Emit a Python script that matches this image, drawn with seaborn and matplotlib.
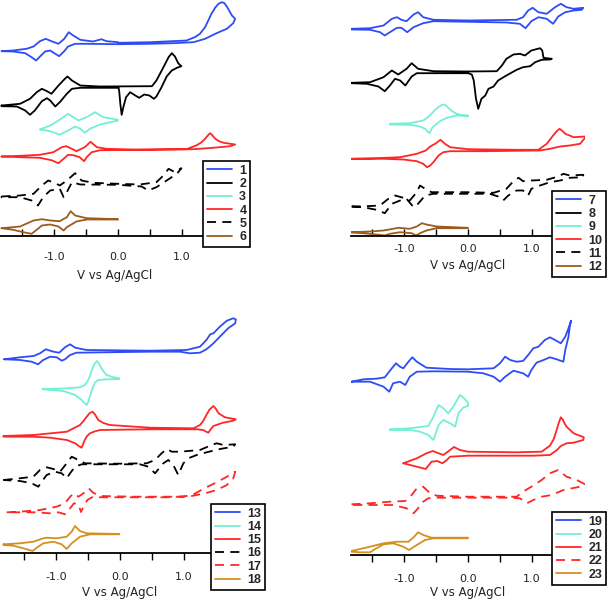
import numpy as np
import matplotlib
matplotlib.use("Agg")
import matplotlib.pyplot as plt
import seaborn as sns

# ---------------- data: potential (V vs Ag/AgCl) and current (a.u., incl. stacking offset) ----------------
# panel A (1-6)
c1_v = [0.00, 0.50, 1.07, 1.20, 1.28, 1.36, 1.46, 1.52, 1.57, 1.62, 1.66, 1.70, 1.78, 1.83,
        1.80, 1.70, 1.54, 1.36, 1.18, 0.86, 0.50, 0.00,
        -0.49, -0.67, -0.78, -0.84, -0.92, -0.98, -1.06, -1.14, -1.23, -1.28, -1.35, -1.45, -1.64, -1.82,
        -1.64, -1.43, -1.32, -1.22, -1.13, -1.04, -0.93, -0.84, -0.77, -0.70, -0.59, -0.39, -0.26, -0.18, 0.00]
c1_i = [193.7, 194.3, 196, 199.3, 202.7, 209.3, 222.7, 229, 232.7, 234.3, 233.5, 230, 221, 217.7,
        213.3, 207.7, 203.3, 197.7, 194.3, 193.3, 192.7, 192.3,
        192.7, 192.7, 190, 185.3, 180.3, 182.7, 186, 185, 179.3, 176, 179.3, 183.3, 185, 185.3,
        186, 187.7, 190, 195.3, 197.7, 195.3, 192.7, 197.7, 204.3, 201, 196.7, 195, 197.3, 195.3, 194.3]

c2_v = [-1.82, -1.53, -1.375, -1.27, -1.19, -1.11, -1.04, -0.93, -0.83, -0.79, -0.72, -0.59, -0.28, 0.53, 0.60,
        0.71, 0.79, 0.84, 0.89, 0.94, 0.99,
        0.92, 0.84, 0.76, 0.68, 0.60, 0.56, 0.49, 0.41, 0.33, 0.27, 0.19, 0.125, 0.083, 0.057, 0.036, 0.02, 0.01,
        0.0, -0.59, -0.72, -0.80, -0.91, -0.98, -1.06, -1.11, -1.19, -1.30, -1.375, -1.45, -1.58, -1.82]
c2_i = [131, 132.7, 137.7, 144.3, 147.7, 145.3, 142.7, 151, 157.7, 160, 156, 151, 150, 150.3, 156,
        169.3, 179.3, 183.3, 180, 173.3, 170.3,
        168.7, 166, 160, 149.3, 140, 137.7, 141, 142, 138.7, 141, 144.3, 139.3, 129.3, 121.7, 132.7, 144.3, 148.7,
        148.7, 148.7, 147.7, 142.7, 134.3, 130, 136, 138.3, 135.3, 126, 121.7, 126, 130, 130.3]

c3_v = [-1.22, -1.06, -0.93, -0.78, -0.70, -0.62, -0.49, -0.36, -0.23, 0.0,
        0.0, -0.28, -0.44, -0.52, -0.59, -0.67, -0.78, -0.91, -1.01, -1.11, -1.22]
c3_i = [107, 111, 116, 122.7, 119.3, 116, 119.3, 124.3, 119.3, 116.7,
        116, 112, 107.7, 103.7, 107.7, 110, 106, 101.7, 104.3, 106, 107]

c4_v = [-1.82, -1.53, -1.22, -1.01, -0.88, -0.81, -0.72, -0.65, -0.52, -0.43, -0.33, -0.18, 0.24, 1.07, 1.23,
        1.30, 1.36, 1.41, 1.44, 1.47, 1.52, 1.58, 1.65, 1.83,
        1.75, 1.49, 1.18, 0.5, -0.28, -0.41, -0.48, -0.53, -0.60, -0.70, -0.78, -0.85, -0.93, -1.04, -1.22, -1.53, -1.82]
c4_i = [80, 80.7, 81.7, 84.3, 89.3, 90.3, 87.7, 85.3, 89.3, 94.7, 89.3, 87.7, 87, 87.3, 91.3,
        94, 97.7, 101.5, 103.3, 101.5, 97.7, 95.2, 93.7, 92,
        90.3, 88.7, 87.3, 86.7, 86.3, 84.3, 80, 75.3, 79.3, 81.3, 81.7, 77.7, 73.3, 76.3, 78.7, 79.3, 80]

c5_v = [-1.82, -1.53, -1.32, -1.19, -1.09, -0.98, -0.91, -0.80, -0.67, -0.57, -0.39, 0.0, 0.34, 0.60, 0.71, 0.79, 0.89, 0.99,
        0.92, 0.76, 0.60, 0.47, 0.37, 0.0, -0.59, -0.72, -0.80, -0.85, -0.91, -1.06, -1.17, -1.25, -1.35, -1.53, -1.82]
c5_i = [40, 41, 42.7, 51, 56, 53.3, 51, 56, 63.3, 56, 53.7, 52.7, 52, 54.3, 61, 67.7, 64.3, 68.3,
        62.7, 56, 49.3, 46, 50, 51.7, 52, 54.3, 44.3, 39.3, 47.7, 46, 39.3, 31, 36, 39.3, 39.3]

c6_v = [-1.82, -1.53, -1.32, -1.19, -1.06, -0.91, -0.80, -0.74, -0.67, -0.49, 0.0,
        0.0, -0.49, -0.65, -0.80, -0.85, -0.93, -1.06, -1.19, -1.27, -1.35, -1.48, -1.64, -1.82]
c6_i = [8.3, 10, 16, 17.3, 16, 15.3, 19.3, 25.3, 21, 18.3, 17.3,
        17, 17, 15, 9.3, 6, 10, 12, 11, 6.7, 2.7, 4.3, 6.7, 8.3]

# panel B (7-12)
c7_v = [-1.82, -1.53, -1.32, -1.19, -1.11, -1.04, -0.96, -0.85, -0.78, -0.70, -0.54, 0.0, 0.76, 0.86, 0.94, 1.01,
        1.10, 1.23, 1.36, 1.45, 1.54, 1.65, 1.80,
        1.78, 1.65, 1.52, 1.41, 1.33, 1.23, 1.10, 0.99, 0.90, 0.81, 0.60, 0.0, -0.54, -0.70, -0.85, -0.95, -1.04,
        -1.11, -1.22, -1.30, -1.375, -1.53, -1.82]
c7_i = [207.7, 208.3, 211, 217.7, 219.3, 216.7, 215.3, 222, 224.3, 219.3, 216.7, 216, 216.7, 219.3, 226, 228.7,
        224.3, 222.7, 229.3, 232.7, 229.3, 227.7, 228.7,
        226.7, 226, 224.3, 220, 212.7, 217.7, 219.3, 215.3, 208.3, 212.7, 214, 214.7, 215.3, 213.3, 209.3, 204.3, 208.7,
        208.7, 204.3, 201, 204.3, 206.7, 207]

c8_v = [-1.82, -1.53, -1.32, -1.19, -1.09, -0.96, -0.88, -0.78, -0.54, 0.0, 0.45, 0.53, 0.60, 0.71, 0.81, 0.89,
        0.99, 1.125, 1.16, 1.18, 1.31,
        1.28, 1.15, 1.05, 0.97, 0.86, 0.76, 0.60, 0.47, 0.40, 0.32, 0.27, 0.21, 0.16, 0.125, 0.09, 0.06, 0.0,
        -0.54, -0.80, -0.88, -0.98, -1.06, -1.14, -1.22, -1.30, -1.40, -1.58, -1.82]
c8_i = [153.7, 154.3, 159.3, 166, 162, 167.7, 173.3, 167.7, 165.3, 165, 165.3, 171, 177.7, 182, 182.7, 181,
        186, 188.3, 186, 178.7, 177.7,
        177, 176.7, 174.3, 170.3, 169.3, 166.7, 161, 156, 150, 147.7, 141, 137.7, 127.7, 137.7, 156, 162, 163.3,
        163.3, 163.3, 160, 151, 156, 157.7, 151, 145.3, 150, 152.7, 153.3]

c9_v = [-1.22, -0.91, -0.70, -0.62, -0.57, -0.51, -0.46, -0.42, -0.375, -0.34, -0.31, -0.25, -0.18, -0.10, 0.0,
        0.0, -0.18, -0.33, -0.42, -0.49, -0.54, -0.57, -0.60, -0.64, -0.67, -0.75, -0.91, -1.22]
c9_i = [112.7, 113.3, 116, 119.5, 122.7, 127, 129.3, 131.2, 132, 130.8, 128.7, 125.5, 122.7, 121.5, 121,
        120.3, 121, 118.7, 116, 112.7, 110, 107.7, 103.3, 105.5, 107.7, 110, 111.7, 112]

c10_v = [-1.82, -1.43, -1.06, -0.80, -0.66, -0.59, -0.50, -0.43, -0.36, -0.28, 0.0, 0.76, 1.10, 1.23, 1.33,
         1.39, 1.43, 1.47, 1.52, 1.65, 1.83,
         1.83, 1.75, 1.59, 1.44, 1.28, 1.125, 0.24, -0.28, -0.385, -0.46, -0.54, -0.59, -0.64, -0.70, -0.80,
         -1.01, -1.32, -1.82]
c10_i = [77.7, 78.3, 79.3, 82.7, 86, 90, 93.3, 96.7, 92.7, 89.3, 87.3, 86.7, 86.7, 92.7, 101,
         105.5, 107.7, 105.8, 102.7, 99.3, 100,
         98.7, 92.7, 91, 90, 87.7, 86, 85.3, 85.3, 84.3, 81, 74.3, 71, 69.3, 72.7, 75.3,
         77, 77.7, 77.7]

c11_v = [-1.82, -1.58, -1.375, -1.245, -1.14, -1.01, -0.91, -0.80, -0.75, -0.67, -0.57, -0.02, 0.40, 0.60, 0.71,
         0.79, 0.86, 0.99, 1.23, 1.41, 1.49, 1.59, 1.80,
         1.80, 1.59, 1.44, 1.28, 1.125, 0.99, 0.94, 0.86, 0.76, 0.63, 0.55, 0.47, 0.34, -0.02, -0.54, -0.67, -0.78,
         -0.85, -0.96, -1.06, -1.19, -1.30, -1.43, -1.64, -1.82]
c11_i = [30, 30.3, 31, 37.7, 41, 38.7, 36, 44.3, 51, 47.7, 44.3, 44.3, 43.7, 47.7, 55.3,
         58.7, 55.3, 56, 56.7, 60, 62.7, 61, 61.7,
         59.3, 58.7, 56, 54.3, 51, 47.7, 41, 46, 46, 41, 36, 40, 42.7, 42.7, 42.7, 41, 32.7,
         29.3, 37.7, 36, 32.7, 23.3, 26.7, 29.3, 30]

c12_v = [-1.82, -1.53, -1.32, -1.17, -1.09, -0.91, -0.80, -0.72, -0.65, -0.49, 0.0,
         0.0, -0.49, -0.65, -0.75, -0.81, -0.88, -1.06, -1.22, -1.30, -1.43, -1.64, -1.82]
c12_i = [4.3, 5, 6, 7.7, 8.7, 7.7, 10, 13.3, 12, 10, 8.7,
         8.3, 8.3, 6, 3.3, 1, 3.3, 4.3, 2.7, 1, 2, 3.3, 4]

# panel C (13-18)
c13_v = [-1.81, -1.56, -1.35, -1.25, -1.16, -1.04, -0.95, -0.86, -0.78, -0.70, -0.52, 0.47, 1.04, 1.25, 1.35,
         1.41, 1.46, 1.56, 1.67, 1.77, 1.81,
         1.80, 1.69, 1.56, 1.46, 1.35, 1.25, 1.09, 0.94, 0.47, -0.68, -0.78, -0.86, -0.91, -0.99, -1.09, -1.20,
         -1.28, -1.38, -1.56, -1.81]
c13_i = [193.7, 195.7, 197, 199.7, 203.7, 201.3, 200.3, 205.7, 208.7, 205.3, 203, 202.3, 203, 206.3, 213,
         218.7, 219.7, 226.3, 232.3, 234.7, 233.7,
         229.7, 224.7, 216.3, 209.7, 203.7, 200.3, 199.7, 201.3, 201.3, 200.3, 198, 193.7, 192.3, 195.7, 196.3, 193,
         188.7, 191.3, 193, 193.7]

c14_v = [-1.21, -0.83, -0.625, -0.55, -0.51, -0.47, -0.44, -0.40, -0.36, -0.33, -0.29, -0.25, -0.21, -0.12, -0.01,
         -0.01, -0.21, -0.34, -0.39, -0.42, -0.45, -0.48, -0.50, -0.52, -0.55, -0.60, -0.70, -0.885, -1.21]
c14_i = [164, 164.7, 165.7, 168, 171.3, 177, 183, 189, 192, 189.5, 184.7, 181, 178, 176, 174.7,
         174, 173.7, 173, 170.5, 166.3, 161, 154.7, 150.5, 148, 149.5, 153, 158, 162, 163.7]

c15_v = [-1.82, -1.35, -0.83, -0.625, -0.57, -0.52, -0.475, -0.43, -0.39, -0.34, -0.26, -0.16, 0.47, 1.15, 1.25,
         1.30, 1.35, 1.40, 1.46, 1.50, 1.54, 1.64, 1.81,
         1.77, 1.61, 1.46, 1.42, 1.38, 1.34, 1.30, 1.20, 0.47, -0.31, -0.40, -0.47, -0.52, -0.55, -0.58, -0.60,
         -0.64, -0.70, -0.83, -1.09, -1.35, -1.82]
c15_i = [117, 118, 121.3, 128, 132, 136.3, 139.8, 141.3, 138.5, 133, 130, 128, 125.3, 124.7, 128,
         132, 138, 143.5, 147, 144, 139.7, 135.7, 133.7,
         132.3, 130.3, 127, 124, 120.3, 121.5, 123, 123.7, 123.7, 123, 121.5, 119.7, 116.5, 113, 108.5, 105.3,
         106.8, 109.7, 113, 115.3, 116.3, 116.3]

c16_v = [-1.82, -1.5625, -1.354, -1.25, -1.146, -1.04, -0.9375, -0.833, -0.755, -0.65, -0.547, -0.05, 0.417,
         0.547, 0.65, 0.73, 0.81, 0.9375, 1.25, 1.406, 1.51, 1.615, 1.80,
         1.77, 1.5625, 1.354, 1.198, 1.068, 0.99, 0.91, 0.833, 0.755, 0.677, 0.547, 0.443, 0.3125, -0.3125, -0.599,
         -0.703, -0.78, -0.833, -0.911, -1.016, -1.146, -1.224, -1.276, -1.38, -1.5625, -1.82]
c16_i = [73, 74.7, 76.3, 83, 85.7, 84, 81.3, 89.7, 96.3, 93, 89.7, 89.3, 89.7,
         93, 99.7, 104, 101.3, 101.3, 103, 107.3, 109.7, 108, 108.7,
         106.3, 104, 100.7, 98, 94.7, 89.7, 78, 88, 93, 89.7, 79.7, 86.3, 88.7, 88.7, 88.7,
         86.3, 79.7, 74.7, 79.7, 81.3, 78, 71.3, 66.3, 69.7, 72, 73]

c17_v = [-1.77, -1.5625, -1.25, -0.99, -0.86, -0.78, -0.72, -0.65, -0.57, -0.49, -0.42, -0.31, 0.21, 0.99, 1.15,
         1.30, 1.51, 1.67, 1.80,
         1.77, 1.67, 1.51, 1.33, 1.12, 0.73, -0.31, -0.42, -0.51, -0.57, -0.61, -0.65, -0.72, -0.78, -0.86, -0.96,
         -1.09, -1.35, -1.77]
c17_i = [40.7, 41.3, 43, 46.3, 49.7, 56.3, 59.7, 56.3, 59.7, 64.7, 60.3, 57, 56.3, 56.3, 58.7,
         64, 70.7, 76.3, 81.3,
         74.7, 68, 63, 59.7, 57, 55.7, 55.7, 56.3, 53, 46.3, 41, 48.7, 49.7, 44.7, 38.7, 40.7,
         39.7, 40.7, 40.7]

c18_v = [-1.82, -1.5625, -1.354, -1.198, -1.146, -0.99, -0.833, -0.755, -0.703, -0.625, -0.52, -0.01,
         -0.01, -0.47, -0.625, -0.755, -0.833, -0.91, -1.04, -1.198, -1.30, -1.365, -1.51, -1.67, -1.82]
c18_i = [8.7, 9.7, 11.3, 14.7, 15.3, 14.7, 16.3, 21.3, 27, 22, 19.7, 19,
         18.7, 18.7, 16.3, 9.7, 4, 8.7, 11.3, 9.7, 5.3, 2, 4.7, 7.3, 8]

# panel D (19-23)
c19_v = [-1.82, -1.635, -1.43, -1.30, -1.19, -1.125, -1.0625, -1.01, -0.93, -0.87, -0.80, -0.65, -0.28, 0.0,
         0.40, 0.5, 0.58, 0.66, 0.76, 0.86, 0.94, 1.02, 1.10, 1.20, 1.28, 1.36, 1.45, 1.52, 1.57, 1.61,
         1.59, 1.57, 1.52, 1.49, 1.385, 1.28, 1.18, 1.07, 0.99, 0.94, 0.86, 0.71, 0.58, 0.5, 0.40, 0.24, 0.0,
         -0.54, -0.80, -0.91, -0.98, -1.0625, -1.17, -1.23, -1.32, -1.53, -1.82]
c19_i = [173.3, 175.7, 176.3, 177.7, 186.7, 191.7, 188.3, 186.7, 193.3, 197.7, 193.3, 187.3, 186, 185.7,
         186.7, 191.7, 198.3, 195, 193.3, 194, 200, 206.7, 208.3, 215, 217.7, 215, 211.7, 218.3, 226.7, 234.3,
         228.3, 218.3, 205, 193.3, 195.7, 197.7, 195, 192.3, 185, 178.3, 181.7, 184.3, 178.3, 173.3, 178.3, 181.7,
         183.3, 183.7, 183.3, 178.3, 170, 173.3, 171.7, 163.3, 168.3, 173.3, 173.3]

c20_v = [-1.22, -0.91, -0.62, -0.54, -0.46, -0.385, -0.31, -0.23, -0.125, -0.07, 0.0,
         0.0, -0.07, -0.15, -0.20, -0.28, -0.385, -0.46, -0.54, -0.62, -0.75, -0.91, -1.22]
c20_i = [125.7, 126.7, 129, 138.3, 150, 146.7, 141.7, 148.3, 160, 157.3, 152.3,
         149, 147.7, 141.7, 128.3, 131.7, 135, 130, 115, 120, 123.3, 125, 125]

c21_v = [-1.01, -0.80, -0.65, -0.55, -0.46, -0.385, -0.28, -0.22, -0.125, 0.0, 0.76, 1.15, 1.28, 1.34, 1.39,
         1.42, 1.45, 1.48, 1.51, 1.54, 1.65, 1.81,
         1.80, 1.65, 1.54, 1.45, 1.39, 1.28, 1.02, 0.0, -0.28, -0.33, -0.40, -0.48, -0.57, -0.66, -0.80, -1.01]
c21_i = [91.7, 96.7, 101.7, 104, 101.7, 100, 105, 108, 105, 103.3, 102.7, 103.3, 109.3, 116, 126,
         132.5, 137.7, 135.5, 131.5, 128.3, 121.7, 117.7,
         115, 112.3, 111.7, 109, 105, 100, 99.3, 99.3, 98.3, 95, 91.7, 94, 93.3, 86, 88.3, 91.7]

c22_v = [-1.82, -1.53, -1.22, -0.98, -0.88, -0.80, -0.70, -0.59, -0.49, 0.0, 0.76, 0.86, 0.99, 1.15, 1.28,
         1.41, 1.54, 1.70, 1.83,
         1.75, 1.49, 1.31, 1.15, 1.02, 0.92, 0.81, 0.66, 0.0, -0.49, -0.62, -0.70, -0.78, -0.85, -0.96, -1.17,
         -1.53, -1.82]
c22_i = [50.7, 51.7, 53.3, 54, 60, 66.7, 68.3, 61.7, 59.3, 58.3, 58.3, 63.3, 68.3, 75, 81.7,
         85, 78.3, 75, 70.7,
         68.3, 65, 60, 58.3, 55, 51.7, 56.7, 57.3, 57.3, 57.3, 56.7, 53.3, 46.7, 41.7, 46.7, 50,
         50, 50]

c23_v = [-1.82, -1.53, -1.32, -1.11, -0.93, -0.85, -0.78, -0.70, -0.57, 0.0,
         0.0, -0.54, -0.67, -0.80, -0.92, -1.01, -1.17, -1.32, -1.45, -1.53, -1.69, -1.82]
c23_i = [4, 8.3, 11.7, 13.3, 13.3, 17.7, 22.7, 20, 17.3, 17.3,
         16.7, 16.7, 15, 10, 5, 8.3, 11.7, 10.7, 6, 2.7, 2.7, 3.3]

tick_pos = [-1.5, -1.0, -0.5, 0.0, 0.5, 1.0, 1.5]
tick_lab = ["", "-1.0", "", "0.0", "", "1.0", ""]
x_label = "V vs Ag/AgCl"

# ---------------- styling ----------------
BLUE = "#2f4cf4"
BLACK = "#000000"
CYAN = "#74efd6"
RED = "#ff2626"
BROWN = "#9b5c1d"
ORANGE = "#d4901f"
SOLID = "-"
DASH = (0, (5, 3.5))

sns.set_style("white")
plt.rcParams["font.family"] = ["DejaVu Sans"]

W, H = 608, 602
fig = plt.figure(figsize=(W / 100, H / 100), dpi=100)

panels = [
    dict(px=(0, 0, 237, 236.5), xlim=(-1.844, 1.859), ylim=(0, 236.5), tdir="in", pad=11.0,
         lab=(0.485, -0.165), leg=(203, 161),
         curves=[("1", c1_v, c1_i, BLUE, SOLID), ("2", c2_v, c2_i, BLACK, SOLID),
                 ("3", c3_v, c3_i, CYAN, SOLID), ("4", c4_v, c4_i, RED, SOLID),
                 ("5", c5_v, c5_i, BLACK, DASH), ("6", c6_v, c6_i, BROWN, SOLID)]),
    dict(px=(351, 0, 234, 236.5), xlim=(-1.828, 1.828), ylim=(0, 236.5), tdir="in", pad=5.6,
         lab=(0.5, -0.121), leg=(552, 191),
         curves=[("7", c7_v, c7_i, BLUE, SOLID), ("8", c8_v, c8_i, BLACK, SOLID),
                 ("9", c9_v, c9_i, CYAN, SOLID), ("10", c10_v, c10_i, RED, SOLID),
                 ("11", c11_v, c11_i, BLACK, DASH), ("12", c12_v, c12_i, BROWN, SOLID)]),
    dict(px=(0, 300, 240, 253), xlim=(-1.875, 1.875), ylim=(0, 253), tdir="out", pad=8.6,
         lab=(0.5, -0.158), leg=(211, 504),
         curves=[("13", c13_v, c13_i, BLUE, SOLID), ("14", c14_v, c14_i, CYAN, SOLID),
                 ("15", c15_v, c15_i, RED, SOLID), ("16", c16_v, c16_i, BLACK, DASH),
                 ("17", c17_v, c17_i, RED, DASH), ("18", c18_v, c18_i, ORANGE, SOLID)]),
    dict(px=(351, 300, 234, 255), xlim=(-1.828, 1.828), ylim=(0, 255), tdir="out", pad=8.6,
         lab=(0.5, -0.149), leg=(552, 512),
         curves=[("19", c19_v, c19_i, BLUE, SOLID), ("20", c20_v, c20_i, CYAN, SOLID),
                 ("21", c21_v, c21_i, RED, SOLID), ("22", c22_v, c22_i, RED, DASH),
                 ("23", c23_v, c23_i, ORANGE, SOLID)]),
]

for p in panels:
    x0, y0, w, h = p["px"]
    ax = fig.add_axes([x0 / W, 1 - (y0 + h) / H, w / W, h / H])
    ax.set_facecolor("none")
    handles = []
    for name, v, i, col, ls in p["curves"]:
        if len(v) != len(i):
            raise ValueError(f"curve {name}: {len(v)} vs {len(i)}")
        vv = np.r_[v, v[0]]
        ii = np.r_[i, i[0]]
        sns.lineplot(x=vv, y=ii, sort=False, estimator=None, ax=ax, color=col,
                     linewidth=1.3, linestyle=ls, solid_joinstyle="round", dash_joinstyle="round",
                     solid_capstyle="round")
        handles.append(ax.lines[-1])
    ax.set_xlim(*p["xlim"])
    ax.set_ylim(*p["ylim"])
    for s in ("left", "top", "right"):
        ax.spines[s].set_visible(False)
    ax.spines["bottom"].set_linewidth(1.3)
    ax.spines["bottom"].set_color("black")
    ax.set_yticks([])
    ax.set_xticks(tick_pos)
    ax.set_xticklabels(tick_lab)
    ax.tick_params(axis="x", direction=p["tdir"], length=5, width=1.0, pad=p["pad"],
                   labelsize=8, labelcolor="#222222", color="black", bottom=True)
    ax.set_xlabel(x_label, fontsize=8.5, color="#222222")
    ax.xaxis.set_label_coords(*p["lab"])
    ax.xaxis.label.set_va("center")
    ax.set_ylabel("")
    ax.grid(False)
    lx, ly = p["leg"]
    leg = fig.legend(handles, [c[0] for c in p["curves"]], loc="upper left",
                     bbox_to_anchor=(lx / W, 1 - ly / H), bbox_transform=fig.transFigure,
                     borderaxespad=0, frameon=True, fancybox=False, framealpha=1,
                     edgecolor="black", handlelength=2.0, handletextpad=0.6,
                     borderpad=0.3, labelspacing=0.1,
                     prop=dict(family="Liberation Sans", weight="bold", size=9))
    leg.get_frame().set_linewidth(1.2)

fig.savefig("out.png", dpi=100)
